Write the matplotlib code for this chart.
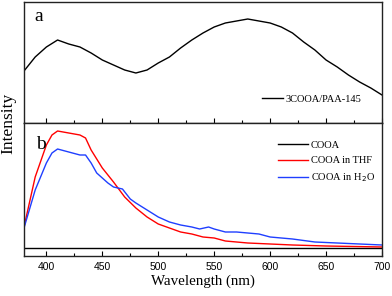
import matplotlib
matplotlib.use("Agg")
import matplotlib.pyplot as plt
from matplotlib.ticker import MultipleLocator

# Panel a: 3COOA/PAA-145
wl_a = [380, 390, 400, 410, 420, 430, 440, 450, 460, 470, 480, 490, 500, 510, 520, 530,
        540, 550, 560, 570, 580, 590, 600, 610, 620, 630, 640, 650, 660, 670, 680, 690, 700]
int_a = [52, 66, 76, 83, 79, 76, 70, 63, 58, 53, 50, 53, 60, 66, 75, 83,
         90, 96, 100, 102, 104, 102, 100, 96, 90, 81, 73, 63, 56, 48, 41, 35, 28]

# Panel b
wl_thf = [380, 390, 400, 405, 410, 415, 420, 430, 435, 440, 450, 460, 470, 480, 490, 500,
          510, 520, 530, 540, 550, 560, 580, 600, 620, 650, 700]
int_thf = [29, 79, 111, 121, 125, 124, 123, 121, 118, 106, 88, 74, 59, 48, 39, 32,
           28, 24, 22, 19, 18, 15, 13, 12, 11, 10, 9]
wl_h2o = [380, 390, 400, 405, 410, 420, 430, 435, 440, 445, 450, 455, 460, 468, 475, 480,
          490, 500, 510, 520, 530, 537, 545, 550, 560, 570, 580, 590, 600, 620, 640, 660, 680, 700]
int_h2o = [28, 66, 93, 103, 107, 104, 101, 101, 93, 83, 78, 73, 69, 67, 57, 53,
           46, 39, 34, 31, 29, 27, 29, 27, 24, 24, 23, 22, 19, 17, 14, 13, 12, 11]
wl_cooa = [380, 700]
int_cooa = [8, 8]

serif = ["Liberation Serif", "DejaVu Serif"]
sans = ["Liberation Sans", "DejaVu Sans"]

fig = plt.figure(figsize=(3.92, 2.96), dpi=100)
W, H = 392, 296
def rect(x0, y0, x1, y1):
    return [x0 / W, 1 - y1 / H, (x1 - x0) / W, (y1 - y0) / H]

ax1 = fig.add_axes(rect(24, 2, 382, 123))
ax2 = fig.add_axes(rect(24, 123, 382, 256))

for ax in (ax1, ax2):
    ax.set_xlim(380, 700)
    ax.xaxis.set_major_locator(MultipleLocator(50))
    ax.xaxis.set_minor_locator(MultipleLocator(25))
    ax.tick_params(axis="x", which="major", direction="in", length=3.5, width=0.8,
                   top=False, labelsize=7.5, pad=4)
    ax.tick_params(axis="x", which="minor", direction="in", length=2, width=0.8, top=False)
    ax.set_yticks([])
    for s in ax.spines.values():
        s.set_linewidth(1.0)
        s.set_color("#222222")
    for lab in ax.get_xticklabels():
        lab.set_family(sans)

ax1.tick_params(axis="x", labelbottom=False)
ax1.set_ylim(0, 121)
ax1.plot(wl_a, int_a, color="black", lw=1.0, label="3COOA/PAA-145")
ax1.text(0.03, 0.88, "a", transform=ax1.transAxes, family=serif, fontsize=14,
         va="center", ha="left")
ax1.legend(loc="center left", bbox_to_anchor=(0.665, 0.198), frameon=False,
           prop={"family": serif, "size": 7.5}, handlelength=2.0, handletextpad=0.25,
           borderpad=0, borderaxespad=0)

ax2.set_ylim(0, 133)
ax2.plot(wl_cooa, int_cooa, color="black", lw=1.0, label="COOA")
ax2.plot(wl_thf, int_thf, color="#ff0000", lw=1.0, label="COOA in THF")
ax2.plot(wl_h2o, int_h2o, color="#1f3fff", lw=1.0, label="COOA in H$_2$O")
ax2.text(0.035, 0.835, "b", transform=ax2.transAxes, family=serif, fontsize=14,
         va="center", ha="left")
ax2.legend(loc="upper left", bbox_to_anchor=(0.71, 0.868), frameon=False,
           prop={"family": serif, "size": 7.5}, handlelength=2.9, handletextpad=0.25,
           labelspacing=0.6, borderpad=0, borderaxespad=0)
ax2.set_xlabel("Wavelength (nm)", family=serif, fontsize=10.8, labelpad=2)

fig.text(8 / W, 1 - 123 / H, "Intensity", rotation=90, family=serif, fontsize=12.5,
         ha="center", va="center")

fig.savefig("out.png", dpi=100)
